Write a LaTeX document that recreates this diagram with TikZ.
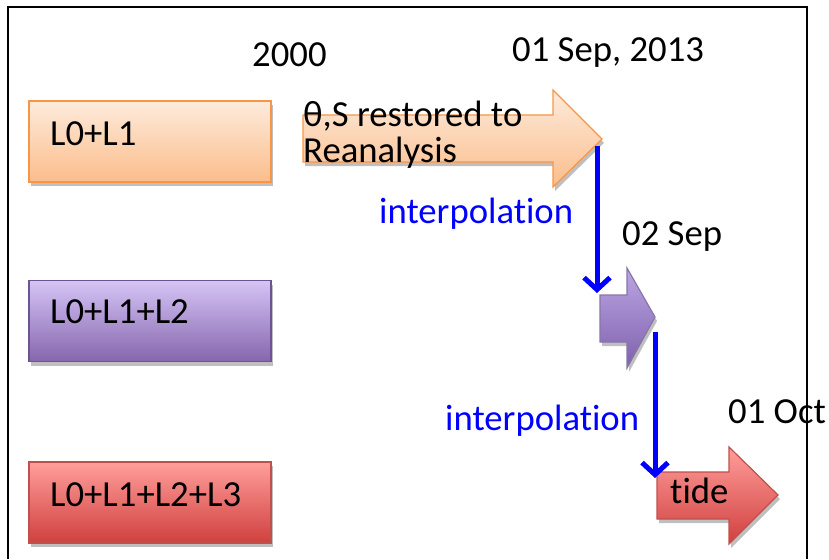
\documentclass[tikz,border=0pt]{standalone}
\usepackage{fontspec}
\setmainfont[Ligatures=NoCommon]{Carlito}
\usetikzlibrary{shadows}
\usetikzlibrary{arrows.meta}
\usetikzlibrary{calc}

\definecolor{orLine}{HTML}{F79646}
\definecolor{orTop}{HTML}{FDEBDC}
\definecolor{orBot}{HTML}{FBBD8B}
\definecolor{puLine}{HTML}{6A5491}
\definecolor{puTop}{HTML}{D6C4F5}
\definecolor{puBot}{HTML}{8566AE}
\definecolor{puArTop}{HTML}{BCA6E4}
\definecolor{puArBot}{HTML}{7E60AC}
\definecolor{reLine}{HTML}{C0504D}
\definecolor{reTop}{HTML}{FF9E9B}
\definecolor{reBot}{HTML}{D0403E}
\definecolor{interpBlue}{HTML}{0000FF}

\newcommand{\lblfont}{\fontsize{36.7}{44}\selectfont}

\tikzset{
    softshadow/.style={drop shadow={shadow xshift=2pt, shadow yshift=-4pt, opacity=0.25, fill=black}},
    levelbox/.style={draw, line width=1.8, minimum width=242, minimum height=81, inner sep=0, softshadow},
    blockarrow/.style={line width=1.2, softshadow},
    orangefill/.style={draw=orLine, top color=orTop, bottom color=orBot},
    purplefill/.style={draw=puLine, top color=puTop, bottom color=puBot},
    purplearrow/.style={draw=puLine!80, top color=puArTop, bottom color=puArBot},
    redfill/.style={draw=reLine, top color=reTop, bottom color=reBot},
    lbl/.style={anchor=base west, inner sep=0, font=\lblfont},
    interp/.style={draw=interpBlue, line width=5, -{Straight Barb[length=12pt, width=26pt]}}
}

\begin{document}
\begin{tikzpicture}[x=1pt, y=-1pt]

        \useasboundingbox (0,0) rectangle (829,559);

        % frame, open at the bottom
        \draw[line width=1.5] (8,559) -- (8,7) -- (807,7) -- (807,559);

        % level boxes
        \node[levelbox, orangefill] (lvA) at (150,141.5) {};
        \node[levelbox, purplefill] (lvB) at (150,321) {};
        \node[levelbox, redfill] (lvC) at (150,502.5) {};

        \node[lbl] (lvAtxt) at (50,145) {L0+L1};
        \node[lbl] (lvBtxt) at (50,323) {L0+L1+L2};
        \node[lbl] (lvCtxt) at (50,506) {L0+L1+L2+L3};

        % block arrows
        \path[blockarrow, orangefill] (303,115) -- (553,115) -- (553,90) -- (602,139) coordinate (tipA)
            -- (553,187) -- (553,162) -- (303,162) -- cycle;
        \path[blockarrow, purplearrow] (600,295) coordinate (nwB) -- (627,295) -- (627,268) -- (655,317) coordinate (tipB)
            -- (627,368) -- (627,342) -- (600,342) -- cycle;
        \path[blockarrow, redfill] (657,472) coordinate (nwC) -- (729,472) -- (729,447) -- (778,495) coordinate (tipC)
            -- (729,544) -- (729,519) -- (657,519) -- cycle;

        % dates
        \node[lbl] (yr) at (252,67) {2000};
        \node[lbl] (sepA) at (512,62) {01 Sep, 2013};
        \node[lbl] (sepB) at (622,245) {02 Sep};
        \node[lbl] (octA) at (728,423) {01 Oct};

        \node[lbl] (restA) at (303,127) {θ,S restored to};
        \node[lbl] (restB) at (303,162) {Reanalysis};
        \node[lbl] (tide) at (670,503) {tide};

        % interpolation steps
        \draw[interp] ($(tipA)+(-5,7)$) -- ($(nwB)+(-3,-2)$);
        \draw[interp] ($(tipB)+(0,15)$) -- ($(nwC)+(-2,6)$);
        \node[lbl, text=interpBlue] (intA) at (379,223) {interpolation};
        \node[lbl, text=interpBlue] (intB) at (445,430) {interpolation};

\end{tikzpicture}
\end{document}
